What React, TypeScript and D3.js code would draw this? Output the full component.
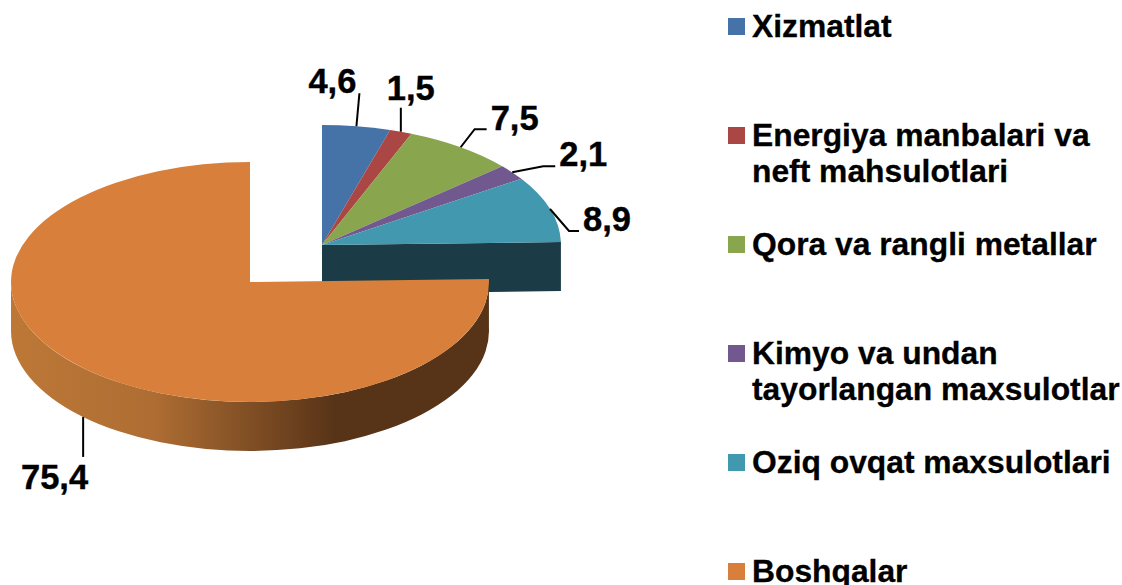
import React from "react";
import * as d3 from "d3";

const categories = [
  ["Xizmatlat"],
  ["Energiya manbalari va", "neft mahsulotlari"],
  ["Qora va rangli metallar"],
  ["Kimyo va undan", "tayorlangan maxsulotlar"],
  ["Oziq ovqat maxsulotlari"],
  ["Boshqalar"],
];
const values = [4.6, 1.5, 7.5, 2.1, 8.9, 75.4];
const valueLabels = ["4,6", "1,5", "7,5", "2,1", "8,9", "75,4"];
const colors = ["#4572a7", "#aa4643", "#89a54e", "#71588f", "#4198af", "#d8803b"];

const width = 1122;
const height = 585;
const font = "'Liberation Sans', Arial, sans-serif";

const rx = 239;
const ry = 120;
const depth = 49;
const smallCenter = { x: 322, y: 245 };
const bigCenter = { x: 250, y: 282 };

// leader line offsets from the slice edge, then label offset from the line end
const leaders = [
  { elbow: [3, -33], end: [3, -33], label: [-3, 0], anchor: "end" },
  { elbow: [0, -24], end: [0, -24], label: [-14, -8], anchor: "start" },
  { elbow: [14, -18], end: [26, -18], label: [4, 1], anchor: "start" },
  { elbow: [31, -6], end: [43, -6], label: [4, 0], anchor: "start" },
  { elbow: [19, 22], end: [29, 22], label: [4, 0], anchor: "start" },
  { elbow: [0, 40], end: [0, 40], label: [5, 32], anchor: "end" },
];

const legendX = 728;
const swatch = 17;
const lineGap = 36;
const legendY = d3
  .scaleLinear()
  .domain([0, categories.length - 1])
  .range([18, 563]);

const slices = d3
  .pie<number>()
  .sort(null)
  .startAngle(0)
  .endAngle(2 * Math.PI)(values);

const arc = d3.arc<d3.PieArcDatum<number>>().innerRadius(0).outerRadius(rx);

const edge = (c: { x: number; y: number }, angle: number) => ({
  x: c.x + rx * Math.sin(angle),
  y: c.y - ry * Math.cos(angle),
});

export default function App() {
  const big = slices[slices.length - 1];
  const small = slices.slice(0, -1);
  const cutAngle = big.startAngle;

  const cutEnd = edge(smallCenter, cutAngle);
  const cutFace = d3.path();
  cutFace.moveTo(smallCenter.x, smallCenter.y);
  cutFace.lineTo(cutEnd.x, cutEnd.y);
  cutFace.lineTo(cutEnd.x, cutEnd.y + depth);
  cutFace.lineTo(smallCenter.x, smallCenter.y + depth);
  cutFace.closePath();

  // the outer wall runs a bit past half an ellipse, so large-arc is on
  const wallStart = edge(bigCenter, cutAngle);
  const wallEnd = edge(bigCenter, 1.5 * Math.PI);
  const wall =
    `M${wallStart.x},${wallStart.y}` +
    `A${rx},${ry} 0 1 1 ${wallEnd.x},${wallEnd.y}` +
    `L${wallEnd.x},${wallEnd.y + depth}` +
    `A${rx},${ry} 0 1 0 ${wallStart.x},${wallStart.y + depth}Z`;

  return (
    <svg
      width={width}
      height={height}
      style={{ position: "absolute", left: 0, top: 0 }}
      fontFamily={font}
      fontWeight="bold"
    >
      <defs>
        <linearGradient id="wallGradient" gradientUnits="userSpaceOnUse" x1={11} x2={489} y1={0} y2={0}>
          <stop offset="0" stopColor="#bd7837" />
          <stop offset="0.3" stopColor="#ae6d33" />
          <stop offset="0.68" stopColor="#573317" />
          <stop offset="1" stopColor="#573317" />
        </linearGradient>
      </defs>

      <path d={cutFace.toString()} fill="#1b3c47" />
      <g transform={`translate(${smallCenter.x},${smallCenter.y}) scale(1,${ry / rx})`}>
        {small.map((d, i) => (
          <path key={i} d={arc(d) ?? ""} fill={colors[i]} />
        ))}
      </g>

      <path d={wall} fill="url(#wallGradient)" />
      <g transform={`translate(${bigCenter.x},${bigCenter.y}) scale(1,${ry / rx})`}>
        <path d={arc(big) ?? ""} fill={colors[5]} />
      </g>

      {slices.map((d, i) => {
        const mid = (d.startAngle + d.endAngle) / 2;
        const isBig = i === slices.length - 1;
        const p = edge(isBig ? bigCenter : smallCenter, mid);
        const y0 = p.y + (isBig ? depth : 0);
        const l = leaders[i];
        const line = d3.line()([
          [p.x, y0],
          [p.x + l.elbow[0], y0 + l.elbow[1]],
          [p.x + l.end[0], y0 + l.end[1]],
        ]);
        return (
          <g key={i}>
            <path d={line ?? ""} fill="none" stroke="#000" strokeWidth={2} />
            <text
              x={p.x + l.end[0] + l.label[0]}
              y={y0 + l.end[1] + l.label[1]}
              textAnchor={l.anchor}
              fontSize={34.5}
              fill="#000"
              stroke="#000"
              strokeWidth={0.4}
            >
              {valueLabels[i]}
            </text>
          </g>
        );
      })}

      {categories.map((lines, i) => (
        <g key={i} transform={`translate(${legendX},${legendY(i)})`}>
          <rect width={swatch} height={swatch} fill={colors[i]} />
          {lines.map((t, j) => (
            <text key={j} x={24} y={18.5 + j * lineGap} fontSize={31.8} fill="#000" stroke="#000" strokeWidth={0.3}>
              {t}
            </text>
          ))}
        </g>
      ))}
    </svg>
  );
}
